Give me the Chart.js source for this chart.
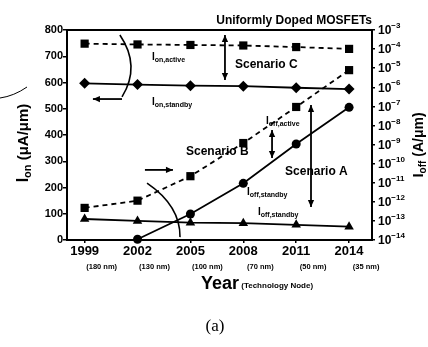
<!DOCTYPE html>
<html>
<head>
<meta charset="utf-8">
<script src="https://cdn.jsdelivr.net/npm/chart.js@4.4.1/dist/chart.umd.min.js"></script>
<style>
body{margin:0;background:#fff}
#wrap{width:428px;height:347px;position:relative}
</style>
</head>
<body>
<div id="wrap"><canvas id="mosChart"></canvas></div>
<script>
// values
const years=[1999,2002,2005,2008,2011,2014];
const nodes=['(180 nm)','(130 nm)','(100 nm)','(70 nm)','(50 nm)','(35 nm)'];
const ionActive=[748,745,743,741,735,728];
const ionStandby=[597,592,588,586,580,575];
const ioffActive=[4.8e-13,1.15e-12,2.2e-11,1.2e-9,9.3e-8,7.9e-6];
const ioffStandbyA=[null,1.1e-14,2.3e-13,9.3e-12,1.07e-9,8.9e-8];
const ioffStandby=[1.26e-13,1.0e-13,8.1e-14,7.6e-14,6.2e-14,5.0e-14];
const leftTicks=[0,100,200,300,400,500,600,700,800];
const rightExp=[-3,-4,-5,-6,-7,-8,-9,-10,-11,-12,-13,-14];

const FF='"Liberation Sans", Arial, sans-serif';
const pts=arr=>years.map((x,i)=>({x:x,y:arr[i]})).filter(p=>p.y!==null);

function rich(ctx,pieces,x,y,align,rot){
    ctx.save();
    ctx.translate(x,y);
    if(rot) ctx.rotate(rot);
    let w=0;
    pieces.forEach(p=>{ctx.font=p.f;w+=ctx.measureText(p.t).width;});
    let cx=align==='center'?-w/2:(align==='right'?-w:0);
    ctx.textBaseline='middle';
    ctx.textAlign='left';
    pieces.forEach(p=>{ctx.font=p.f;ctx.fillText(p.t,cx,p.dy||0);cx+=ctx.measureText(p.t).width;});
    ctx.restore();
}
function lbl(main,sub){
    return [{t:main,f:'bold 10px '+FF},{t:sub,f:'bold 7px '+FF,dy:3}];
}
function arrowHead(ctx,x,y,dx,dy,s){
    const len=Math.hypot(dx,dy),ux=dx/len,uy=dy/len;
    ctx.beginPath();
    ctx.moveTo(x,y);
    ctx.lineTo(x-ux*s-uy*s*0.45,y-uy*s+ux*s*0.45);
    ctx.lineTo(x-ux*s+uy*s*0.45,y-uy*s-ux*s*0.45);
    ctx.closePath();
    ctx.fill();
}
function arrow(ctx,x1,y1,x2,y2,both){
    ctx.beginPath();ctx.moveTo(x1,y1);ctx.lineTo(x2,y2);ctx.stroke();
    arrowHead(ctx,x2,y2,x2-x1,y2-y1,7);
    if(both) arrowHead(ctx,x1,y1,x1-x2,y1-y2,7);
}

const decor={
    id:'decor',
    beforeDatasetsDraw(chart){
        const {ctx,chartArea:a}=chart;
        ctx.save();
        ctx.strokeStyle='#000';ctx.lineWidth=2;
        ctx.strokeRect(a.left,a.top,a.right-a.left,a.bottom-a.top);
        ctx.restore();
    },
    afterDatasetsDraw(chart){
        const {ctx,chartArea:a}=chart;
        const sx=chart.scales.x,sl=chart.scales.y,sr=chart.scales.y1;
        const X=v=>sx.getPixelForValue(v),Y=v=>sl.getPixelForValue(v);
        ctx.save();
        ctx.fillStyle='#000';ctx.strokeStyle='#000';

        // title
        ctx.font='bold 12px '+FF;ctx.textAlign='right';ctx.textBaseline='middle';
        ctx.fillText('Uniformly Doped MOSFETs',a.right,21);

        // right log tick labels
        rightExp.forEach(e=>{
            const y=sr.getPixelForValue(Math.pow(10,e));
            rich(ctx,[{t:'10',f:'bold 12px '+FF,dy:1},{t:String(e).replace('-','\u2212'),f:'bold 8px '+FF,dy:-4}],a.right+6,y,'left');
        });

        // axis titles
        rich(ctx,[{t:'I',f:'bold 16px '+FF},{t:'on',f:'bold 11px '+FF,dy:4},{t:' (\u03bcA/\u03bcm)',f:'bold 15px '+FF}],24,143,'center',-Math.PI/2);
        rich(ctx,[{t:'I',f:'bold 15px '+FF},{t:'off',f:'bold 10px '+FF,dy:4},{t:' (A/\u03bcm)',f:'bold 14px '+FF}],419,145,'center',-Math.PI/2);

        // technology nodes + x title
        ctx.font='bold 7.5px '+FF;ctx.textAlign='center';ctx.textBaseline='middle';
        years.forEach((yr,i)=>ctx.fillText(nodes[i],X(yr)+17,267));
        rich(ctx,[{t:'Year',f:'bold 18px '+FF},{t:' (Technology Node)',f:'bold 8px '+FF,dy:2}],201,284,'left');
        ctx.font='17px "Liberation Serif", serif';ctx.textAlign='center';
        ctx.fillText('(a)',215,327);

        // curve labels
        rich(ctx,lbl('I','on,active'),X(2002.82),Y(697),'left');
        rich(ctx,lbl('I','on,standby'),X(2002.82),Y(526),'left');
        rich(ctx,lbl('I','off,active'),X(2009.29),Y(453),'left');
        rich(ctx,lbl('I','off,standby'),X(2008.21),Y(183),'left');
        rich(ctx,lbl('I','off,standby'),X(2008.83),Y(107),'left');
        ctx.font='bold 12px '+FF;ctx.textAlign='left';ctx.textBaseline='middle';
        ctx.fillText('Scenario C',X(2007.53),Y(667));
        ctx.fillText('Scenario B',X(2004.75),Y(335));
        ctx.fillText('Scenario A',X(2010.37),Y(259));

        // arrows
        ctx.lineWidth=1.8;
        arrow(ctx,X(2006.96),Y(781),X(2006.96),Y(610),true);
        arrow(ctx,X(2009.63),Y(419),X(2009.63),Y(312),true);
        arrow(ctx,X(2011.84),Y(514),X(2011.84),Y(126),true);
        arrow(ctx,X(2001.12),Y(537),X(1999.47),Y(537),false);
        arrow(ctx,X(2002.42),Y(267),X(2004.01),Y(267),false);

        // brackets
        ctx.lineWidth=1.6;
        ctx.beginPath();
        ctx.moveTo(X(2001.0),Y(781));
        ctx.quadraticCurveTo(X(2002.2),Y(663),X(2001.12),Y(545));
        ctx.stroke();
        ctx.beginPath();
        ctx.moveTo(X(2002.54),Y(217));
        ctx.quadraticCurveTo(X(2004.44),Y(130),X(2004.41),Y(11));
        ctx.stroke();

        // scan mark at left edge
        ctx.lineWidth=1;
        ctx.beginPath();ctx.moveTo(0,98);ctx.quadraticCurveTo(14,96,27,87);ctx.stroke();
        ctx.restore();
    }
};

const ctx=document.getElementById('mosChart').getContext('2d');
const mosChart=new Chart(ctx,{
    type:'line',
    data:{
        datasets:[
            {label:'Ion,active',data:pts(ionActive),yAxisID:'y',borderDash:[5,4],pointStyle:'rect',pointRadius:5.8},
            {label:'Ion,standby',data:pts(ionStandby),yAxisID:'y',pointStyle:'rectRot',pointRadius:5.5},
            {label:'Ioff,active',data:pts(ioffActive),yAxisID:'y1',borderDash:[5,4],pointStyle:'rect',pointRadius:5.8},
            {label:'Ioff,standby A',data:pts(ioffStandbyA),yAxisID:'y1',pointStyle:'circle',pointRadius:4.5},
            {label:'Ioff,standby',data:pts(ioffStandby),yAxisID:'y1',pointStyle:'triangle',pointRadius:5.5}
        ].map(d=>Object.assign({borderColor:'#000',backgroundColor:'#000',borderWidth:1.8,pointBorderWidth:0,tension:0,clip:false},d))
    },
    options:{
        responsive:true,
        maintainAspectRatio:false,
        animation:false,
        events:[],
        layout:{padding:{top:30,left:0,right:0,bottom:0}},
        plugins:{legend:{display:false},tooltip:{enabled:false}},
        scales:{
            x:{
                type:'linear',min:1998,max:2015.3,
                afterFit:s=>{s.height=107;},
                afterBuildTicks:s=>{s.ticks=years.map(v=>({value:v}));},
                grid:{display:true,drawOnChartArea:false,tickLength:3,color:'#000',lineWidth:1.5},
                border:{display:false},
                ticks:{color:'#000',padding:1,maxRotation:0,font:{family:FF,size:13,weight:'bold'},callback:v=>String(v)}
            },
            y:{
                position:'left',min:0,max:800,
                afterFit:s=>{s.width=67;},
                afterBuildTicks:s=>{s.ticks=leftTicks.map(v=>({value:v}));},
                grid:{display:true,drawOnChartArea:false,tickLength:4,color:'#000',lineWidth:1.5},
                border:{display:false},
                ticks:{color:'#000',padding:0,font:{family:FF,size:11,weight:'bold'}}
            },
            y1:{
                type:'logarithmic',position:'right',min:1e-14,max:1e-3,
                afterFit:s=>{s.width=56;},
                afterBuildTicks:s=>{s.ticks=rightExp.map(e=>({value:Math.pow(10,e)}));},
                grid:{display:true,drawOnChartArea:false,tickLength:3,color:'#000',lineWidth:1.5},
                border:{display:false},
                ticks:{display:false}
            }
        }
    },
    plugins:[decor]
});
</script>
</body>
</html>
